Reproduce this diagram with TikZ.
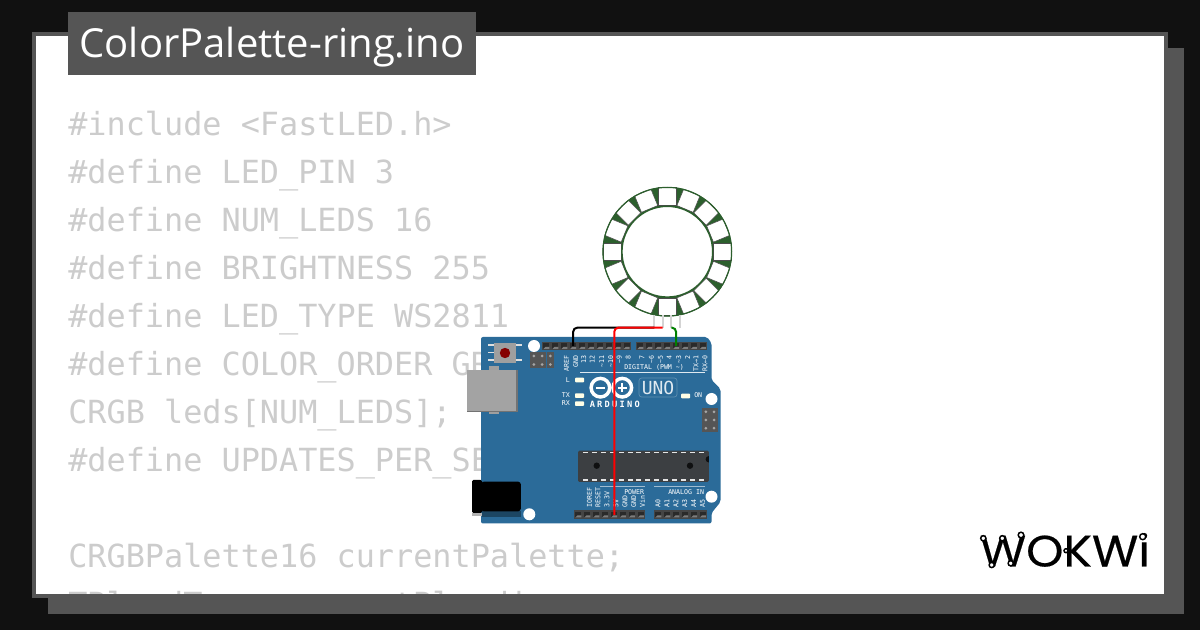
\documentclass[tikz,border=0pt]{standalone}
\usepackage{fontspec}
\setmainfont{Open Sans}
\newfontfamily\codefont{DejaVu Sans Mono}
\newfontfamily\titlefont{Open Sans}
\newfontfamily\logofont[FakeBold=0.4]{Poppins}
\newfontfamily\ardfont[LetterSpace=26]{DejaVu Sans Mono}
\definecolor{bgdark}{HTML}{111111}
\definecolor{frame}{HTML}{555555}
\definecolor{codegrey}{HTML}{CCCCCC}
\definecolor{boardblue}{HTML}{2B6B99}
\definecolor{ringgreen}{HTML}{2C5F2D}
\definecolor{header}{HTML}{454545}
\definecolor{pinhole}{HTML}{2A2A2A}
\definecolor{chip}{HTML}{3C3F42}
\tikzset{
  x=0.75pt,y=-0.75pt,
  codeline/.style={anchor=base west,inner sep=0,text=codegrey,font=\codefont\fontsize{23.88pt}{24pt}\selectfont},
  silk/.style={inner sep=0,text=white,font=\codefont\fontsize{4.95pt}{5pt}\selectfont},
  toplabel/.style={silk,rotate=90,anchor=east},
  botlabel/.style={silk,rotate=90,anchor=west},
  wire/.style={line width=1.5pt,rounded corners=3pt},
  ringpin/.style={line width=1.5pt,draw=codegrey!85!white},
  led/.style={fill=white!90!yellow,rounded corners=0.6pt},
  hole/.style={fill=white},
  logoring/.style={draw=black,fill=white,line width=1.1pt},
}
\begin{document}
\begin{tikzpicture}
\useasboundingbox (0,0) rectangle (1200,630);
% frame
\fill[bgdark] (0,0) rectangle (1200,630);
\fill[frame] (48,48) rectangle (1184,614);
\fill[frame] (32,32) rectangle (1168,598);
\fill[white] (36,36) rectangle (1164,594);
\begin{scope}
\clip (36,36) rectangle (1164,594);
\node[codeline] (l1) at (68,136) {\#include <FastLED.h>};
\node[codeline] (l2) at (68,184) {\#define LED\_PIN 3};
\node[codeline] (l3) at (68,232) {\#define NUM\_LEDS 16};
\node[codeline] (l4) at (68,280) {\#define BRIGHTNESS 255};
\node[codeline] (l5) at (68,328) {\#define LED\_TYPE WS2811};
\node[codeline] (l6) at (68,376) {\#define COLOR\_ORDER GRB};
\node[codeline] (l7) at (68,424) {CRGB leds[NUM\_LEDS];};
\node[codeline] (l8) at (68,472) {\#define UPDATES\_PER\_SECOND 100};
\node[codeline] (l9) at (68,568) {CRGBPalette16 currentPalette;};
\node[codeline] (l10) at (68,616) {TBlendType currentBlending;};
\end{scope}
\fill[frame] (68,12) rectangle (476,75);
\node[anchor=base,inner sep=0,text=white,font=\titlefont\fontsize{30pt}{32pt}\selectfont] (title) at (272,58) {ColorPalette-ring.ino};
% ring
\coordinate (ringc) at (667.3,251.7);
\fill[ringgreen] (ringc) circle[radius=64.7];
\fill[white] (ringc) circle[radius=45.3];
\foreach \a in {0,22.5,...,337.5}{
  \draw[shift={(ringc)},rotate=\a,fill=white,draw=black!70,line width=0.4pt] (-8.8,-64) rectangle (8.8,-46.3);
}
\draw[ringgreen,line width=0.9pt] (ringc) circle[radius=64.3];
\draw[ringgreen,line width=1.1pt] (ringc) circle[radius=45.4];
\foreach \n/\x in {1/654.3,2/662.7,3/671.3,4/680}{
  \coordinate (rp\n) at (\x,327.7);
  \coordinate (rt\n) at (\x,315);
  \draw[ringpin] (rt\n) -- (rp\n);
}
% board
\fill[boardblue,rounded corners=1.5pt] (481,337) -- (707,337) -- (711.5,343) -- (711.5,380) -- (720.5,389) -- (720.5,502) -- (711.5,513) -- (711.5,523.5) -- (481,523.5) -- cycle;
% headers
\foreach \xa/\n/\ya in {542/10/342,636/8/342,574/8/510.5,654/6/510.5}{
  \fill[header] (\xa,\ya) rectangle ++(\n*8.9,8.5);
  \foreach \i in {1,...,\n}{
    \fill[pinhole] ({\xa+(\i-0.5)*8.9-3},\ya+1.5) rectangle ++(6,5.5);
    \fill[header!70!white] ({\xa+(\i-0.5)*8.9-3},\ya+7) -- ++(2,-2) -- ++(4,0) -- ++(0,2) -- cycle;
  }
}
% reset button
\foreach \y in {345,352.5,360}{\draw[white!88!black,line width=1.1pt] (488,\y) -- (494,\y);}
\foreach \y in {345,360}{\draw[white!88!black,line width=1.1pt] (516,\y) -- (522,\y);}
\fill[gray!75] (494,343) rectangle (516,363);
\fill[black!5!red!55!black] (505,353) circle[radius=5.2];
% ICSP
\foreach \x in {530,538.3,546.6}{\foreach \y in {352,360.5}{
  \fill[frame] (\x,\y) rectangle ++(7.6,8);
  \fill[gray!70] (\x+3.8,\y+4) circle[radius=1.5];
}}
\foreach \x in {702,710.2}{\foreach \y in {408,416.2,424.4}{
  \fill[frame] (\x,\y) rectangle ++(7.6,7.6);
  \fill[gray!70] (\x+3.8,\y+3.8) circle[radius=1.5];
}}
% holes
\fill[hole] (534,346) circle[radius=6];
\fill[hole] (711.5,399) circle[radius=6];
\fill[hole] (529.3,514.3) circle[radius=6];
\fill[hole] (711.5,496.7) circle[radius=6];
% USB
\fill[gray!75] (489,366.5) rectangle (499,370);
\fill[gray!75] (489,412) rectangle (499,414);
\fill[black!36] (467,370) rectangle (518,412.5);
\fill[black!55] (515.5,370) rectangle (518,412.5);
\fill[black!55] (467,411.5) rectangle (518,412.5);
% jack
\fill[black!30] (472,513) rectangle (482,516.5);
\fill[boardblue!65!black] (482,511) rectangle (520.5,517);
\fill[black,rounded corners=1pt] (472,480) rectangle (482,513);
\fill[black,rounded corners=2pt] (481,481.7) rectangle (520.8,511.3);
% chip
\fill[chip,rounded corners=1pt] (578,450.7) rectangle (708.8,482);
\foreach \i in {0,...,13}{
  \fill[white!90!black] ({585.7+\i*8.87-2.5},451.7) rectangle ++(5,1.6);
  \fill[white!90!black] ({585.7+\i*8.87-2.5},479.4) rectangle ++(5,1.6);
}
\fill[black!75!chip] (596.7,465.7) circle[radius=3.2];
\fill[black!75!chip] (690,465.7) circle[radius=3.2];
\fill[black!75!chip] (708.8,462.5) arc[start angle=90,end angle=270,radius=3.2] -- cycle;
% silk lines
\draw[white!85!boardblue,line width=0.55pt] (580,372.5) -- (705,372.5);
\draw[white!55!boardblue,line width=0.55pt] (600,486.7) -- (645,486.7);
\draw[white!55!boardblue,line width=0.55pt] (654,486.7) -- (705,486.7);
% top labels
\node[toplabel] (tAREF) at (566.4,355) {AREF};
\node[toplabel] (tGND) at (575.6,355) {GND};
\node[toplabel] (t13) at (583.6,355) {13};
\node[toplabel] (t12) at (592.2,355) {12};
\node[toplabel] (t11) at (601.8,355) {\textasciitilde 11};
\node[toplabel] (t10) at (610.6,355) {\textasciitilde 10};
\node[toplabel] (t9) at (619.2,355) {\textasciitilde 9};
\node[toplabel] (t8) at (628.2,355) {8};
\node[toplabel] (t7) at (642,355) {7};
\node[toplabel] (t6) at (651.4,355) {\textasciitilde 6};
\node[toplabel] (t5) at (660.4,355) {\textasciitilde 5};
\node[toplabel] (t4) at (669.2,355) {4};
\node[toplabel] (t3) at (678.8,355) {\textasciitilde 3};
\node[toplabel] (t2) at (687.6,355) {2};
\node[toplabel] (t1) at (696,355) {TX→1};
\node[toplabel] (t0) at (705,355) {RX←0};
\node[silk,anchor=west] (dig) at (624,367) {DIGITAL (PWM \textasciitilde)};
% left labels and LEDs
\node[silk,anchor=east] (lL) at (570,380) {L};
\node[silk,anchor=east] (lTX) at (570,395.5) {TX};
\node[silk,anchor=east] (lRX) at (570,403.5) {RX};
\foreach \y in {380,395.7,403.7}{\fill[led] (575,\y-2.3) rectangle (584,\y+2.3);}
\fill[led] (681,393.7) rectangle (690,398.3);
\node[silk,anchor=west] (lON) at (694,395.5) {ON};
% logo
\draw[white,line width=2.6pt] (600.4,387.7) circle[radius=9.3];
\draw[white,line width=2.6pt] (622.3,387.7) circle[radius=9.3];
\draw[white,line width=1.5pt] (596,387.7) -- (604.8,387.7);
\draw[white,line width=1.5pt] (618,387.7) -- (626.6,387.7) (622.3,383.4) -- (622.3,392);
\node[inner sep=0,text=white,font=\ardfont\bfseries\fontsize{6.5pt}{7pt}\selectfont] (ard) at (614.8,404.3) {ARDUINO};
\draw[white!25!boardblue,line width=0.5pt,rounded corners=2pt] (639,378) rectangle (677,397);
\node[inner sep=0,text=white!85!boardblue,font=\codefont\fontsize{13.5pt}{14pt}\selectfont] (uno) at (658,387.5) {UNO};
% bottom labels
\node[botlabel] (bIO) at (589.4,508) {IOREF};
\node[botlabel] (bRS) at (598,508) {RESET};
\node[botlabel] (b33) at (607,508) {3.3V};
\node[botlabel] (b5V) at (616,508) {5V};
\node[botlabel] (bG1) at (625,508) {GND};
\node[botlabel] (bG2) at (633.6,508) {GND};
\node[botlabel] (bVi) at (642.4,508) {Vin};
\node[silk,anchor=west] (pow) at (624,491.7) {POWER};
\node[silk,anchor=west] (ana) at (668,491.7) {ANALOG IN};
\node[botlabel] (bA0) at (658,508) {A0};
\node[botlabel] (bA1) at (666.9,508) {A1};
\node[botlabel] (bA2) at (675.8,508) {A2};
\node[botlabel] (bA3) at (684.7,508) {A3};
\node[botlabel] (bA4) at (693.6,508) {A4};
\node[botlabel] (bA5) at (702.5,508) {A5};
% wires
\coordinate (pGND) at (573.2,346);
\coordinate (p5V) at (614.3,515);
\coordinate (p3) at (676,346);
\draw[wire,black] (pGND) |- (rp1);
\draw[wire,red] (p5V) |- (rp2);
\draw[wire,green!50!black] (p3) |- (rp3);
% Wokwi logo
\node[anchor=base west,inner sep=0,text=black,font=\logofont\fontsize{33pt}{34pt}\selectfont] (wokwi) at (979.5,566.5) {\scalebox{1.08}[1]{WOKWi}};
\foreach \x/\y/\r in {983.3/538.3/2.6,1002.3/538.3/2.6,1021/535/2.8,991.7/565/2.6,1010.7/563.3/2.6,1066/550.7/2,1142.7/536.7/3}{
  \draw[logoring] (\x,\y) circle[radius=\r];
}
\end{tikzpicture}
\end{document}
